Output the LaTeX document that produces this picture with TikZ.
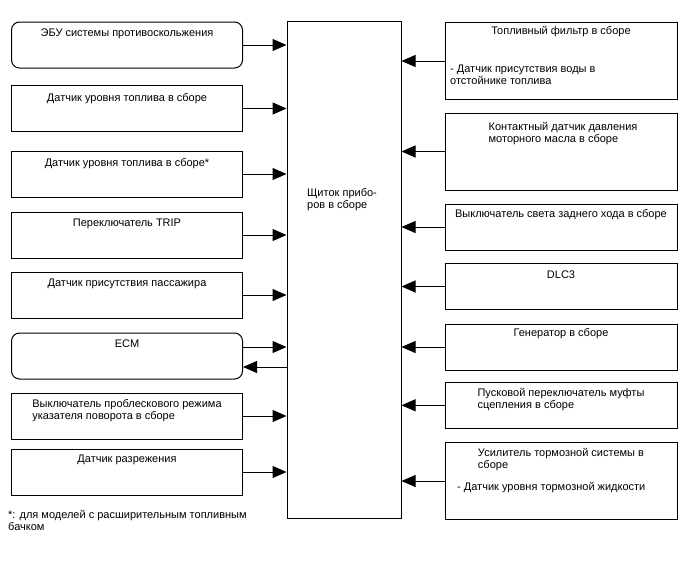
\documentclass[tikz,border=0pt]{standalone}
\usepackage{fontspec}
\setmainfont{Liberation Sans}
\usetikzlibrary{arrows.meta}
\begin{document}
\begin{tikzpicture}[x=1pt,y=-1pt,
  lbox/.style={draw, line width=1pt, minimum width=231pt, minimum height=46pt, inner sep=0pt},
  rbox/.style={draw, line width=1pt, minimum width=232pt, minimum height=46pt, inner sep=0pt},
  tall/.style={minimum height=77pt},
  rnd/.style={rounded corners=8pt},
  txt/.style={inner sep=0pt, font=\fontsize{11}{12.3}\selectfont, align=left},
  arr/.style={line width=1pt, -{Triangle[length=14pt,width=12pt]}}]
\useasboundingbox (0,0) rectangle (688,560);
% central box
\node[draw, line width=1pt, minimum width=114pt, minimum height=497pt, inner sep=0pt] (C) at (344,270) {};
\node[txt] (Ct) at (342,199.7) {Щиток прибо-\\ров в сборе};
% left boxes
\node[lbox, rnd] (L1) at (127,45) {};
\node[txt] (L1t) at (127,33.3) {ЭБУ системы противоскольжения};
\node[lbox] (L2) at (127,108.5) {};
\node[txt] (L2t) at (127,98.3) {Датчик уровня топлива в сборе};
\node[lbox] (L3) at (127,174) {};
\node[txt] (L3t) at (127,163.3) {Датчик уровня топлива в сборе*};
\node[lbox] (L4) at (127,235) {};
\node[txt] (L4t) at (127,224.3) {Переключатель TRIP};
\node[lbox] (L5) at (127,295) {};
\node[txt] (L5t) at (127,283.7) {Датчик присутствия пассажира};
\node[lbox, rnd] (L6) at (127,356) {};
\node[txt] (L6t) at (127,343.3) {ECM};
\node[lbox] (L7) at (127,416) {};
\node[txt] (L7t) at (127,410.8) {Выключатель проблескового режима\\указателя поворота в сборе};
\node[lbox] (L8) at (127,472) {};
\node[txt] (L8t) at (127,460) {Датчик разрежения};
\node[txt, anchor=west] (FN) at (8,520.5) {*: для моделей с расширительным топливным\\бачком};
% right boxes
\node[rbox, tall] (R1) at (561,61) {};
\node[txt] (R1t) at (561,31.7) {Топливный фильтр в сборе};
\node[txt, anchor=west] (R1d) at (450,75) {- Датчик присутствия воды в\\отстойнике топлива};
\node[rbox, tall] (R2) at (561,151.5) {};
\node[txt] (R2t) at (563,133.5) {Контактный датчик давления\\моторного масла в сборе};
\node[rbox] (R3) at (561,227) {};
\node[txt] (R3t) at (561,215) {Выключатель света заднего хода в сборе};
\node[rbox] (R4) at (561,286.5) {};
\node[txt] (R4t) at (561,275) {DLC3};
\node[rbox] (R5) at (561,347) {};
\node[txt] (R5t) at (561,333.3) {Генератор в сборе};
\node[rbox] (R6) at (561,405.3) {};
\node[txt] (R6t) at (561,399.7) {Пусковой переключатель муфты\\сцепления в сборе};
\node[rbox, tall] (R7) at (561,481) {};
\node[txt] (R7t) at (561,459.5) {Усилитель тормозной системы в\\сборе};
\node[txt, anchor=west] (R7d) at (457,487.7) {- Датчик уровня тормозной жидкости};
% left arrows
\foreach \n in {L1,L2,L3,L4,L5,L7,L8}
  \draw[arr] (\n.east) -- (\n.east -| C.west);
\draw[arr] ([yshift=9pt]L6.east) -- ([yshift=9pt]L6.east -| C.west);
\draw[arr] ([yshift=-11pt]L6.east -| C.west) -- ([yshift=-11pt]L6.east);
% right arrows
\foreach \n in {R1,R2,R3,R4,R5,R6,R7}
  \draw[arr] (\n.west) -- (\n.west -| C.east);
\end{tikzpicture}
\end{document}
